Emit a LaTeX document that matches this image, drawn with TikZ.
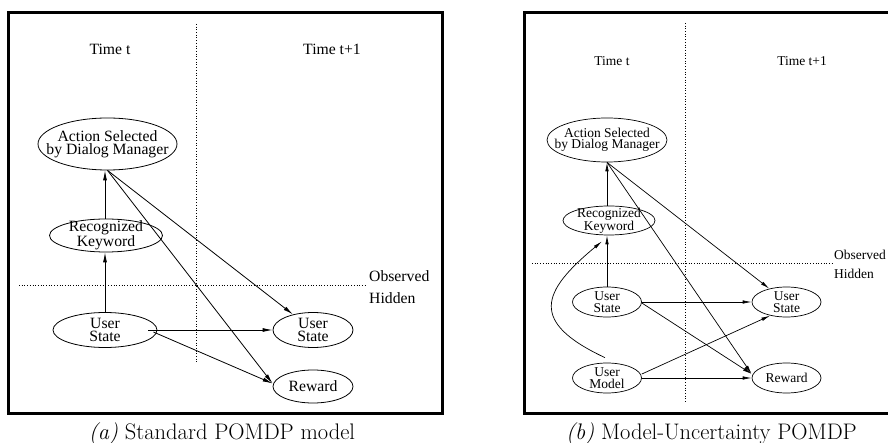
\documentclass[tikz,border=0pt]{standalone}
\usepackage{fontspec}
\newfontfamily\tms{Liberation Serif}
\usetikzlibrary{shapes.geometric,arrows.meta}
\begin{document}
\begin{tikzpicture}[x=1pt,y=-1pt,
  frame/.style={line width=3pt},
  sep/.style={dotted, line width=0.7pt},
  ellA/.style={ellipse, draw, line width=0.8pt, inner sep=0pt},
  ellB/.style={ellipse, draw, line width=0.7pt, inner sep=0pt},
  txtA/.style={inner sep=0pt, align=center, font=\tms\fontsize{15.7}{12.8}\selectfont},
  txtB/.style={inner sep=0pt, align=center, font=\tms\fontsize{13.5}{11.4}\selectfont},
  lblA/.style={inner sep=0pt, font=\tms\fontsize{15.7}{16}\selectfont},
  lblB/.style={inner sep=0pt, font=\tms\fontsize{13.5}{14}\selectfont},
  arrA/.style={-{Latex[length=10pt,width=4pt]}, line width=0.8pt},
  arrB/.style={-{Latex[length=9pt,width=3.5pt]}, line width=0.7pt},
  captext/.style={inner sep=0pt, anchor=base, font=\fontsize{22.5}{26}\selectfont}
]
\useasboundingbox (0,0) rectangle (888,443);
\clip (0,0) rectangle (888,443);

% ---------------- panel (a) ----------------
\draw[frame] (8.5,13) rectangle (442,413);
\draw[sep] (196,24) -- (196,363);
\draw[sep] (19,285) -- (367,285);
\node[lblA] (ta1) at (110,49) {Time t};
\node[lblA] (tb1) at (332,49) {Time t+1};
\node[lblA, anchor=west] (ob1) at (369,276) {Observed};
\node[lblA, anchor=west] (hi1) at (369,298) {Hidden};

\node[ellA, minimum width=139pt, minimum height=52pt,
  label={[txtA]center:Action Selected\\by Dialog Manager}] (A1) at (107.5,144) {};
\node[ellA, minimum width=113pt, minimum height=33pt,
  label={[txtA]center:Recognized\\Keyword}] (K1) at (106,235.5) {};
\node[ellA, minimum width=104pt, minimum height=35pt,
  label={[txtA]center:User\\State}] (U1) at (105,330) {};
\node[ellA, minimum width=80pt, minimum height=35pt,
  label={[txtA]center:User\\State}] (S1) at (313,330) {};
\node[ellA, minimum width=80pt, minimum height=33pt,
  label={[txtA]center:Reward}] (R1) at (313,386.5) {};

\draw[arrA] (U1.north) -- (U1.north |- K1.south);
\draw[arrA] (U1.north |- K1.north) -- (U1.north |- A1.south);
\draw[arrA] (A1.south) -- (S1);
\draw[arrA] (A1.south) -- ([yshift=3pt]R1.west);
\draw[arrA] ([xshift=-9pt]U1.east) -- (S1.west);
\draw[arrA] ([xshift=-4pt,yshift=-2pt]U1.east) -- ([yshift=3pt]R1.west);

\node[captext] (c1) at (222,439) {\textit{(a)} Standard POMDP model};

% ---------------- panel (b) ----------------
\draw[frame] (524,13) rectangle (900,413);
\draw[sep] (685,23) -- (685,403);
\draw[sep] (532,263) -- (833,263);
\node[lblB] (ta2) at (612,61) {Time t};
\node[lblB] (tb2) at (802,61) {Time t+1};
\node[lblB, anchor=west] (ob2) at (834,255) {Observed};
\node[lblB, anchor=west] (hi2) at (834,274) {Hidden};

\node[ellB, minimum width=120pt, minimum height=44pt,
  label={[txtB]center:Action Selected\\by Dialog Manager}] (A2) at (607,140) {};
\node[ellB, minimum width=92pt, minimum height=29pt,
  label={[txtB]center:Recognized\\Keyword}] (K2) at (609,220.5) {};
\node[ellB, minimum width=69pt, minimum height=30pt,
  label={[txtB]center:User\\State}] (U2) at (607,302) {};
\node[ellB, minimum width=69pt, minimum height=30pt,
  label={[txtB]center:User\\Model}] (M2) at (607,378) {};
\node[ellB, minimum width=69pt, minimum height=30pt,
  label={[txtB]center:User\\State}] (S2) at (786.5,302) {};
\node[ellB, minimum width=69pt, minimum height=30pt,
  label={[txtB]center:Reward}] (R2) at (786.5,378) {};

\draw[arrB] (U2.north) -- (U2.north |- K2.south);
\draw[arrB] (U2.north |- K2.north) -- (U2.north |- A2.south);
\draw[arrB] (A2.south) -- (S2);
\draw[arrB] (A2.south) -- ([yshift=4pt]R2.west);
\draw[arrB] (U2.east) -- (S2.west);
\draw[arrB] ([yshift=-1pt]U2.east) -- ([yshift=4pt]R2.west);
\draw[arrB] ([yshift=4pt]M2.east) -- (S2.220);
\draw[arrB] (M2.east) -- (R2.west);
\draw[arrB] ([xshift=-2pt,yshift=5pt]M2.north) .. controls (529,322) and (541,292) .. ([xshift=-7pt,yshift=-6pt]K2.south);

\node[captext] (c2) at (711.5,439) {\textit{(b)} Model-Uncertainty POMDP};
\end{tikzpicture}
\end{document}
